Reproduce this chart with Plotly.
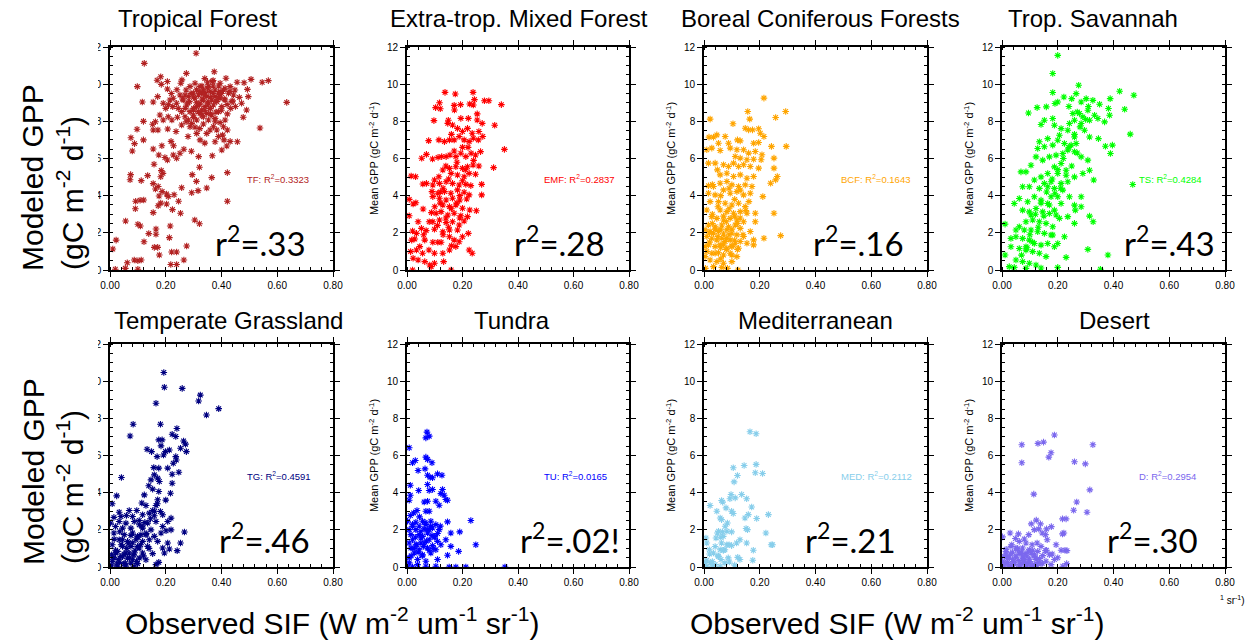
import plotly.graph_objects as go

W, H = 1247, 643

# ---------------- data (x = observed SIF, y = modeled GPP) ----------------
tf_x = [0.309,0.123,0.098,0.116,0.12,0.097,0.075,0.12,0.088,0.08,0.155,0.158,0.074,0.072,0.112,0.135,0.092,0.108,0.121,0.091,
        0.056,0.1,0.109,0.022,0.01,0.019,0.055,0.062,0.087,0.1,0.112,0.1,0.122,0.139,0.165,0.165,0.159,0.171,0.177,0.213,
        0.216,0.221,0.239,0.218,0.239,0.265,0.275,0.304,0.321,0.155,0.173,0.182,0.203,0.224,0.253,0.246,0.23,0.257,0.293,0.295,
        0.31,0.316,0.347,0.365,0.421,0.421,0.321,0.367,0.318,0.265,0.292,0.219,0.228,0.186,0.184,0.19,0.182,0.155,0.173,0.163,
        0.187,0.203,0.176,0.209,0.175,0.197,0.206,0.227,0.251,0.239,0.237,0.207,0.172,0.191,0.163,0.179,0.171,0.155,0.182,0.169,
        0.184,0.206,0.206,0.254,0.274,0.258,0.215,0.225,0.222,0.242,0.245,0.273,0.257,0.287,0.28,0.311,0.323,0.34,0.322,0.347,
        0.335,0.323,0.311,0.299,0.285,0.273,0.305,0.299,0.287,0.323,0.335,0.353,0.368,0.374,0.395,0.416,0.456,0.481,0.506,0.546,
        0.568,0.634,0.538,0.493,0.496,0.49,0.478,0.472,0.464,0.448,0.443,0.437,0.433,0.421,0.413,0.407,0.421,0.404,0.409,0.431,
        0.457,0.419,0.401,0.389,0.377,0.383,0.395,0.377,0.389,0.401,0.413,0.425,0.407,0.389,0.377,0.365,0.353,0.341,0.359,0.371,
        0.383,0.395,0.347,0.335,0.323,0.311,0.329,0.347,0.365,0.353,0.335,0.317,0.299,0.287,0.275,0.263,0.251,0.269,0.281,0.305,
        0.317,0.329,0.341,0.359,0.377,0.395,0.413,0.431,0.239,0.227,0.257,0.269,0.281,0.293,0.305,0.371,0.359,0.377,0.2,0.191,
        0.209,0.155,0.153,
        0.30,0.31,0.32,0.33,0.34,0.35,0.36,0.37,0.38,0.39,0.36,0.34,0.32,0.30,0.28,0.37,0.35,0.33,0.31,0.29,
        0.40,0.41,0.42,0.40,0.38,0.36,0.33,0.30,0.27,0.26,0.39,0.43,0.44,0.45,0.35,0.37,0.34,0.24,0.22,0.21]
tf_y = [11.66,11.12,9.87,9.04,8.0,7.57,7.12,7.0,6.8,6.4,6.51,5.69,5.13,4.86,4.81,5.08,3.7,3.75,3.77,3.3,
        2.64,2.46,2.37,1.61,1.13,0.04,0.09,0.39,0.54,0.5,0.54,0.04,1.52,1.96,2.21,1.92,1.22,1.22,0.81,1.74,
        2.37,0.97,0.97,0.3,0.3,0.54,1.29,2.69,2.49,3.09,3.46,3.6,3.55,3.25,3.05,3.7,4.05,4.43,4.16,5.13,
        4.77,4.27,4.41,4.97,5.24,3.7,5.53,6.15,6.1,6.5,6.39,6.92,6.69,6.69,5.35,5.2,5.02,4.65,4.49,4.36,
        4.22,4.09,3.98,3.95,6.19,6.05,5.92,6.19,6.28,6.01,7.45,7.59,7.53,8.07,7.98,8.34,9.33,9.04,10.4,10.21,
        9.99,9.74,10.14,10.05,10.58,10.23,9.15,8.79,8.07,8.22,8.7,7.98,7.8,7.71,7.18,7.35,7.0,6.83,7.61,7.35,
        7.86,8.43,8.07,8.61,9.06,9.69,10.05,9.51,9.87,9.87,9.69,9.87,10.14,10.67,10.05,10.32,10.1,10.08,10.26,10.1,
        10.19,9.02,7.64,9.72,9.33,8.61,8.22,8.97,9.29,9.69,9.42,9.06,8.7,8.4,8.07,7.71,7.53,7.26,7.0,6.92,
        6.9,6.67,6.46,7.18,6.9,7.53,7.93,8.16,8.52,8.79,9.15,9.51,9.69,9.51,9.33,9.15,8.97,8.79,8.7,8.88,
        9.06,9.24,9.33,9.15,8.97,8.79,8.61,8.43,8.34,8.07,8.25,8.52,8.34,8.52,8.88,9.15,9.42,9.42,9.33,9.24,
        9.42,9.51,9.55,9.6,9.69,9.6,9.78,9.87,8.97,9.24,8.52,8.25,8.07,7.89,7.68,7.71,7.53,7.98,8.7,8.97,
        8.25,7.53,7.84,
        9.3,9.0,9.6,9.2,9.4,9.0,9.3,9.5,9.1,9.3,8.7,8.6,8.9,8.7,9.0,9.9,9.8,9.9,9.7,9.5,
        9.5,9.2,8.9,8.6,8.5,8.4,8.3,8.2,8.7,9.2,9.9,9.6,9.1,8.8,10.1,10.2,10.3,9.7,9.5,8.9]

emf_x = [0.137,0.174,0.238,0.243,0.117,0.12,0.103,0.17,0.171,0.193,0.226,0.239,0.253,0.279,0.295,0.34,0.097,0.149,0.194,0.221,
         0.253,0.271,0.316,0.147,0.164,0.182,0.2,0.218,0.235,0.259,0.273,0.257,0.239,0.224,0.206,0.188,0.17,0.153,0.135,0.115,
         0.078,0.351,0.312,0.265,0.247,0.231,0.212,0.194,0.176,0.155,0.141,0.125,0.112,0.092,0.07,0.053,0.259,0.238,0.218,0.2,
         0.176,0.153,0.129,0.159,0.182,0.206,0.224,0.247,0.115,0.099,0.015,0.031,0.057,0.07,0.093,0.117,0.141,0.164,0.188,0.212,
         0.23,0.269,0.269,0.09,0.111,0.135,0.158,0.182,0.206,0.224,0.093,0.117,0.141,0.164,0.19,0.215,0.008,0.022,0.032,0.058,
         0.129,0.153,0.176,0.2,0.226,0.25,0.088,0.105,0.123,0.147,0.17,0.194,0.218,0.008,0.04,0.093,0.117,0.141,0.164,0.188,
         0.206,0.052,0.069,0.099,0.129,0.153,0.182,0.221,0.02,0.034,0.017,0.028,0.046,0.064,0.093,0.111,0.123,0.153,0.17,0.188,
         0.2,0.013,0.034,0.056,0.079,0.099,0.129,0.153,0.224,0.235,0.022,0.04,0.064,0.082,0.087,0.099,0.132,0.02,0.159,0.176,
         0.13,0.15,0.16,0.14,0.18,0.17,0.12,0.19,0.2,0.21,0.15,0.13,0.11,0.16,0.18,0.14,0.12,0.1,0.08,0.06,
         0.22,0.24,0.2,0.16,0.19]
emf_y = [9.56,9.47,9.56,9.17,9.0,8.68,8.74,8.86,8.61,8.9,8.93,8.88,8.4,9.11,9.11,8.9,8.04,8.06,8.16,8.16,
         8.07,7.89,7.79,7.89,7.8,7.62,7.45,7.62,7.36,7.45,7.18,7.0,7.09,6.91,7.0,7.18,7.0,7.0,6.91,7.0,
         6.96,6.49,5.51,6.37,6.19,6.28,6.1,6.28,6.1,6.19,6.1,6.1,6.06,5.97,6.22,6.01,5.6,5.65,5.56,5.47,
         5.56,5.47,5.38,5.2,5.11,5.02,5.2,5.15,5.02,4.84,5.06,5.02,4.63,4.66,4.57,4.66,4.75,4.66,4.57,4.61,
         4.54,4.61,4.04,4.22,4.13,4.22,4.13,4.31,4.18,4.04,3.95,3.86,3.77,3.86,3.77,3.82,3.8,3.55,3.62,3.28,
         3.5,3.41,3.5,3.32,3.23,3.19,3.09,3.05,3.14,2.96,3.05,2.92,2.87,2.92,2.6,2.6,2.69,2.55,2.6,2.42,
         2.64,2.24,2.12,2.19,2.06,2.15,2.15,1.97,2.1,1.97,1.61,1.67,1.26,1.61,1.49,1.49,1.49,1.79,1.61,1.52,
         1.79,0.99,1.08,0.9,1.08,0.9,0.9,1.08,1.08,0.9,0.63,0.54,0.45,0.27,0.18,0.36,0.45,0.0,0.0,1.26,
         4.4,4.9,3.3,2.8,5.8,6.4,3.6,2.8,4.8,5.4,2.3,1.9,2.4,1.3,3.6,5.6,4.2,3.4,2.6,1.9,
         6.6,5.9,6.6,7.3,4.0]

bcf_x = [0.215,0.293,0.157,0.022,0.257,0.164,0.104,0.148,0.16,0.174,0.196,0.13,0.202,0.215,0.018,0.034,0.046,0.076,0.052,0.088,
         0.12,0.178,0.196,0.242,0.295,0.01,0.028,0.058,0.094,0.118,0.142,0.16,0.184,0.208,0.112,0.13,0.154,0.178,0.205,0.251,
         0.016,0.04,0.07,0.088,0.106,0.124,0.142,0.166,0.196,0.251,0.048,0.058,0.082,0.106,0.13,0.154,0.178,0.263,0.257,0.239,
         0.016,0.034,0.058,0.082,0.1,0.124,0.148,0.172,0.07,0.094,0.118,0.142,0.166,0.016,0.04,0.211,0.161,0.022,0.052,0.076,
         0.1,0.124,0.148,0.058,0.082,0.106,0.13,0.154,0.184,0.251,0.01,0.028,0.046,0.07,0.094,0.118,0.142,0.184,0.016,0.04,
         0.064,0.088,0.112,0.13,0.166,0.004,0.022,0.034,0.052,0.07,0.082,0.1,0.118,0.142,0.178,0.215,0.275,0.01,0.028,0.046,
         0.064,0.076,0.094,0.112,0.13,0.154,0.016,0.04,0.058,0.082,0.1,0.124,0.178,0.01,0.028,0.052,0.07,0.094,0.118,0.022,
         0.046,0.07,0.1,0.034,0.064,0.084,0.122,0.005,0.004,0.004,
         0.02,0.03,0.05,0.06,0.07,0.08,0.09,0.1,0.11,0.12,0.04,0.06,0.08,0.1,0.03,0.05,0.07,0.09,0.11,0.13,
         0.02,0.04,0.06,0.08,0.1,0.12,0.14,0.03,0.06,0.09,0.11,0.13,0.15]
bcf_y = [9.25,8.53,8.53,8.12,8.21,8.12,7.87,7.63,7.54,7.54,7.6,6.95,7.36,7.18,7.15,7.15,7.27,7.18,6.82,6.82,
         7.0,6.82,6.86,6.65,6.65,6.47,6.56,6.43,6.56,6.47,6.47,6.29,6.38,6.2,6.11,6.02,5.93,5.96,5.93,6.02,
         5.75,5.75,5.66,5.57,5.75,5.57,5.66,5.57,5.48,5.48,5.39,5.12,5.21,5.03,5.12,4.94,5.03,5.03,4.85,4.67,
         4.53,4.49,4.67,4.76,4.58,4.49,4.58,4.49,4.31,4.13,4.22,4.04,4.13,4.13,4.04,3.95,3.68,3.68,3.68,3.59,
         3.5,3.59,3.41,3.23,3.14,3.05,3.14,3.05,3.05,3.05,3.23,2.87,2.78,2.69,2.78,2.69,2.6,2.6,2.42,2.33,
         2.42,2.33,2.42,2.24,2.07,2.16,2.07,1.98,2.07,1.94,2.16,1.98,1.89,1.8,1.62,1.71,1.85,1.8,1.71,1.62,
         1.71,1.53,1.62,1.44,1.53,1.44,1.35,1.26,1.35,1.17,1.26,1.17,1.35,0.99,0.9,0.93,0.81,0.9,0.72,0.54,
         0.45,0.36,0.45,0.18,0.14,0.09,0.0,0.09,1.26,0.72,
         1.5,2.5,1.8,2.2,1.4,2.6,1.9,2.2,1.6,2.5,0.9,0.6,1.1,0.8,3.0,3.4,2.9,3.3,2.9,2.8,
         2.0,2.2,1.2,1.7,1.3,1.1,1.9,4.6,4.0,4.4,3.8,4.3,3.2]

ts_x = [0.2,0.182,0.182,0.275,0.422,0.473,0.095,0.126,0.159,0.19,0.2,0.222,0.25,0.266,0.284,0.302,0.326,0.35,0.388,0.44,
        0.382,0.386,0.368,0.46,0.346,0.371,0.396,0.389,0.14,0.152,0.182,0.188,0.212,0.206,0.236,0.242,0.26,0.254,0.278,0.29,
        0.308,0.314,0.332,0.344,0.284,0.296,0.314,0.26,0.266,0.248,0.224,0.236,0.26,0.284,0.308,0.314,0.29,0.26,0.329,0.2,
        0.182,0.164,0.152,0.128,0.134,0.218,0.194,0.17,0.146,0.122,0.104,0.068,0.086,0.062,0.044,0.074,0.098,0.116,0.14,0.164,
        0.188,0.212,0.23,0.2,0.176,0.152,0.134,0.164,0.188,0.212,0.236,0.218,0.242,0.26,0.284,0.263,0.284,0.26,0.314,0.327,
        0.308,0.38,0.353,0.23,0.2,0.224,0.236,0.206,0.188,0.164,0.14,0.116,0.092,0.074,0.098,0.122,0.146,0.17,0.194,0.11,
        0.134,0.158,0.182,0.086,0.062,0.08,0.104,0.128,0.152,0.176,0.05,0.05,0.074,0.098,0.116,0.14,0.164,0.188,0.032,0.062,
        0.086,0.11,0.134,0.158,0.05,0.074,0.098,0.122,0.026,0.044,0.086,0.14,0.2,0.011,0.011,0.032,0.469,0.086,0.104,0.176,
        0.2,0.212,0.182,
        0.12,0.14,0.16,0.18,0.2,0.22,0.24,0.26,0.28,0.3,0.13,0.15,0.17,0.19,0.21,0.23,0.25,0.27,0.1,0.09,
        0.07,0.11,0.24,0.27,0.31]
ts_y = [11.55,10.57,9.55,9.94,9.62,9.4,8.45,8.74,8.78,8.96,9.04,9.31,9.22,9.49,9.04,9.22,9.13,8.92,9.22,8.65,
        8.69,8.33,7.97,7.31,7.07,6.66,6.72,6.27,7.83,8.06,8.15,7.79,7.61,7.25,7.52,7.88,8.06,8.42,8.42,8.24,
        8.6,8.06,8.33,8.15,7.88,7.52,7.16,7.16,6.81,6.72,6.81,6.45,6.36,6.09,5.91,5.37,5.19,5.01,4.84,6.98,
        6.72,7.07,6.63,6.54,6.9,6.27,6.18,6.09,5.91,6.09,5.64,5.28,5.28,3.85,3.58,4.48,4.48,4.84,5.01,5.19,
        5.55,5.73,5.37,5.19,4.75,4.66,4.39,4.48,4.39,4.66,4.75,4.3,3.94,3.49,3.94,3.22,3.4,2.51,2.9,2.6,
        1.11,0.81,0.04,0.68,1.43,1.79,2.87,2.78,3.22,3.58,3.76,3.94,3.67,3.22,3.13,3.31,3.13,3.04,2.96,2.69,
        2.6,2.51,2.33,2.6,2.33,2.15,2.15,2.06,1.97,1.88,2.15,1.79,1.7,1.61,1.43,1.34,1.43,1.25,1.25,1.16,
        1.07,0.99,0.9,0.72,0.54,0.45,0.36,0.27,0.18,0.14,0.09,0.11,0.14,0.81,2.47,1.7,4.6,1.25,2.96,3.94,
        3.94,3.58,1.88,
        3.0,3.6,4.2,4.9,5.4,6.0,6.6,7.3,7.7,8.1,2.3,2.9,3.5,4.1,4.4,5.1,5.6,6.3,1.9,1.2,
        0.8,1.5,8.8,8.5,8.8]

tg_x = [0.193,0.195,0.259,0.324,0.318,0.39,0.346,0.165,0.083,0.072,0.181,0.24,0.223,0.236,0.264,0.271,0.274,0.253,0.175,0.187,
        0.183,0.213,0.199,0.133,0.149,0.169,0.192,0.236,0.238,0.227,0.207,0.247,0.223,0.157,0.175,0.159,0.171,0.147,0.177,0.041,
        0.223,0.139,0.153,0.175,0.217,0.024,0.123,0.171,0.008,0.114,0.129,0.165,0.096,0.069,0.033,0.059,0.153,0.181,0.189,0.014,
        0.039,0.081,0.117,0.141,0.159,0.219,0.207,0.165,0.033,0.057,0.087,0.105,0.135,0.189,0.002,0.02,0.045,0.075,0.117,0.147,
        0.201,0.219,0.267,0.014,0.051,0.081,0.099,0.129,0.159,0.183,0.033,0.063,0.093,0.117,0.141,0.171,0.207,0.253,0.008,0.045,
        0.075,0.105,0.135,0.189,0.213,0.241,0.027,0.057,0.087,0.117,0.153,0.195,0.006,0.014,0.039,0.063,0.081,0.105,0.129,0.008,
        0.033,0.051,0.075,0.099,0.006,0.027,0.057,0.087,0.165,0.175,0.02,0.045,0.099,0.069,0.111,
        0.01,0.02,0.03,0.04,0.05,0.06,0.07,0.08,0.09,0.1,0.11,0.12,0.13,0.14,0.015,0.035,0.055,0.075,0.095,0.115,
        0.025,0.045,0.065,0.085,0.105,0.125,0.145,0.16,0.17,0.2]
tg_y = [10.47,9.67,9.61,9.25,8.93,8.52,8.18,8.81,7.68,7.05,7.68,7.45,7.14,7.02,6.78,6.61,6.21,6.39,6.84,6.84,
        6.52,6.3,6.21,6.34,6.21,5.94,6.03,5.94,5.76,5.58,5.32,5.1,4.99,5.35,5.32,4.96,4.78,4.69,4.6,4.82,
        4.51,4.37,4.19,4.06,3.97,3.83,3.88,3.62,3.4,3.44,3.31,3.31,3.04,3.04,2.95,2.77,3.04,2.99,2.81,2.67,
        2.72,2.72,2.81,2.9,2.76,2.63,2.45,2.45,2.45,2.36,2.45,2.27,2.36,2.18,2.36,2.18,2.09,2.09,2.09,2.0,
        1.95,2.0,1.88,1.83,1.74,1.83,1.65,1.74,1.65,1.83,1.47,1.38,1.47,1.38,1.47,1.38,1.29,1.29,1.2,1.11,
        1.11,1.02,1.11,1.02,0.97,0.88,0.84,0.75,0.75,0.75,0.72,0.75,0.66,0.48,0.57,0.48,0.39,0.48,0.39,0.3,
        0.25,0.18,0.21,0.18,0.07,0.04,0.04,0.04,0.13,0.25,0.75,1.47,1.11,0.75,1.74,
        0.5,0.9,0.4,1.2,0.7,1.0,0.5,1.3,0.9,1.6,1.2,0.6,1.8,1.0,1.5,1.9,0.2,1.7,0.3,2.2,
        0.15,0.55,1.25,0.65,2.5,2.4,2.6,3.0,3.4,3.6]

tu_x = [0.072,0.08,0.068,0.008,0.068,0.074,0.02,0.03,0.09,0.04,0.065,0.11,0.126,0.074,0.083,0.092,0.074,0.012,0.042,0.08,
        0.092,0.122,0.134,0.128,0.14,0.146,0.012,0.008,0.062,0.074,0.104,0.116,0.036,0.068,0.08,0.024,0.012,0.23,0.146,0.002,
        0.032,0.056,0.086,0.104,0.02,0.044,0.068,0.008,0.032,0.062,0.092,0.116,0.158,0.19,0.014,0.044,0.074,0.098,0.14,0.248,
        0.02,0.05,0.08,0.11,0.158,0.008,0.032,0.062,0.092,0.122,0.014,0.044,0.074,0.104,0.186,0.146,0.026,0.056,0.086,0.11,
        0.008,0.038,0.068,0.008,0.038,0.068,0.104,0.152,0.176,0.212,0.353,0.002,0.02,0.05,0.08,0.056,
        0.03,0.05,0.07,0.09,0.04,0.06,0.08,0.1,0.02,0.045,0.065,0.085,0.035,0.055,0.075,0.095,0.11,0.12,0.015,0.025]
tu_y = [7.26,7.04,6.95,6.42,5.91,5.79,5.61,5.73,5.61,5.19,5.28,5.01,4.94,4.94,4.83,4.8,4.44,4.4,4.12,4.12,
        4.17,3.95,3.86,4.17,3.63,3.59,3.86,3.59,3.5,3.54,3.54,3.32,3.04,3.0,3.0,2.91,2.77,2.5,2.43,2.46,
        2.41,2.46,2.46,2.28,2.19,2.19,2.28,2.01,2.01,2.05,2.1,2.01,1.83,1.89,1.74,1.74,1.83,1.65,1.47,1.2,
        1.47,1.56,1.47,1.38,1.11,1.29,1.2,1.29,1.15,1.2,1.02,0.93,1.02,0.93,0.84,0.63,0.75,0.66,0.75,0.4,
        0.49,0.4,0.31,0.22,0.13,0.04,0.04,0.0,0.0,0.0,0.0,0.0,0.0,1.29,2.01,1.65,
        1.6,1.9,1.4,1.7,0.8,1.1,0.9,1.6,2.3,2.7,2.4,2.2,1.2,0.6,2.0,1.0,1.8,2.2,0.6,1.0]

med_x = [0.165,0.187,0.105,0.144,0.187,0.184,0.21,0.12,0.108,0.097,0.135,0.093,0.112,0.022,0.063,0.067,0.153,0.171,0.079,0.099,
         0.105,0.046,0.159,0.231,0.058,0.063,0.189,0.147,0.084,0.076,0.151,0.156,0.052,0.066,0.048,0.082,0.099,0.222,0.007,0.043,
         0.069,0.129,0.153,0.117,0.063,0.082,0.099,0.241,0.246,0.019,0.058,0.069,0.075,0.177,0.034,0.052,0.087,0.121,0.061,0.01,
         0.004,0.175,0.024,0.04,0.075,0.01,0.031,0.058,0.091,0.129,0.01,
         0.03,0.05,0.07,0.06,0.04,0.09,0.02,0.11]
med_y = [7.28,7.17,5.34,5.46,5.52,5.07,5.03,4.92,4.58,3.9,3.9,3.67,3.72,3.31,3.58,3.49,3.67,3.23,3.18,3.0,
         2.88,3.0,2.82,2.82,2.64,2.55,2.61,2.64,2.37,2.19,2.07,2.01,1.92,1.89,1.83,1.92,1.89,1.83,1.56,1.56,
         1.65,1.47,1.29,1.29,1.29,1.2,1.15,1.2,1.2,0.93,0.93,0.9,0.93,0.9,0.75,0.57,0.49,0.52,0.4,0.36,
         0.25,0.36,0.22,0.13,0.22,0.04,0.04,0.04,0.27,0.4,1.29,
         0.3,0.6,0.9,1.6,1.1,1.2,0.7,0.1]

d_x = [0.188,0.071,0.129,0.149,0.326,0.176,0.168,0.071,0.26,0.299,0.114,0.315,0.268,0.257,0.305,0.217,0.23,0.123,0.105,0.138,
       0.177,0.222,0.217,0.116,0.132,0.16,0.096,0.144,0.156,0.162,0.029,0.059,0.002,0.048,0.08,0.062,0.086,0.108,0.126,0.194,
       0.14,0.212,0.226,0.233,0.032,0.05,0.074,0.098,0.128,0.156,0.17,0.014,0.038,0.062,0.086,0.116,0.146,0.188,0.008,0.026,
       0.05,0.074,0.098,0.122,0.158,0.232,0.002,0.02,0.044,0.068,0.092,0.116,0.14,0.176,0.008,0.032,0.062,0.086,0.11,0.218,
       0.014,0.056,0.08,0.038,0.104,
       0.01,0.02,0.03,0.04,0.05,0.06,0.07,0.08,0.09,0.1,0.11,0.12,0.13,0.015,0.035,0.055,0.075,0.095,0.115,0.135,
       0.025,0.045,0.065,0.085,0.105,0.125,0.145,0.16,0.18,0.2]
d_y = [7.1,6.58,6.65,6.72,6.58,6.15,5.91,5.61,5.66,5.55,3.92,4.15,3.5,3.05,2.95,2.59,2.59,2.52,2.32,2.32,
       2.17,1.83,1.78,2.01,2.05,2.05,1.74,1.83,1.74,1.47,1.83,1.78,1.62,1.53,1.51,1.38,1.29,1.2,1.29,1.2,
       1.11,0.9,0.9,0.88,1.11,1.02,1.02,0.93,0.84,0.88,0.66,0.84,0.79,0.75,0.72,0.66,0.61,0.4,0.57,0.54,
       0.49,0.54,0.43,0.4,0.31,0.18,0.31,0.25,0.22,0.22,0.18,0.13,0.18,0.13,0.04,0.04,0.04,0.04,0.04,0.04,
       0.66,0.93,0.4,0.4,0.75,
       0.2,0.45,0.7,0.3,0.6,0.35,0.8,0.25,0.55,0.3,0.9,0.5,0.25,0.95,1.2,1.0,0.6,0.85,0.6,0.45,
       0.1,0.15,0.1,0.12,0.1,0.1,0.2,0.9,0.7,0.5]

panel_titles = ["Tropical Forest", "Extra-trop. Mixed Forest", "Boreal Coniferous Forests", "Trop. Savannah",
                "Temperate Grassland", "Tundra", "Mediterranean", "Desert"]
codes = ["TF", "EMF", "BCF", "TS", "TG", "TU", "MED", "D"]
r2_exact = ["0.3323", "0.2837", "0.1643", "0.4284", "0.4591", "0.0165", "0.2112", "0.2954"]
r2_short = [".33", ".28", ".16", ".43", ".46", ".02!", ".21", ".30"]
xs = [tf_x, emf_x, bcf_x, ts_x, tg_x, tu_x, med_x, d_x]
ys = [tf_y, emf_y, bcf_y, ts_y, tg_y, tu_y, med_y, d_y]
x_ticks = [0.0, 0.2, 0.4, 0.6, 0.8]
y_ticks = [0, 2, 4, 6, 8, 10, 12]

# ---------------- styling / layout ----------------
colors = ["#B22222", "#FF0000", "#FFA500", "#00FF00", "#000080", "#0000FF", "#87CEEB", "#7B68EE"]
col_px = [(110, 333), (407, 629), (704, 927), (1002, 1225)]
row_px = [(47, 270), (344, 567)]
title_cx = [197, 519, 820, 1093, 228, 512, 815, 1114]
r2_right = [308, 607, 906, 1217, 312, 622, 898, 1200]

def px(x):
    return x / W

def py(y):
    return 1 - y / H

fig = go.Figure()
layout = dict(width=W, height=H, margin=dict(l=0, r=0, t=0, b=0, autoexpand=False),
              paper_bgcolor="white", plot_bgcolor="white", showlegend=False,
              font=dict(family="Liberation Sans, Arial, sans-serif", color="black"))
annotations = []
shapes = []
ytitle = "Mean GPP (gC m<sup>-2</sup> d<sup>-1</sup>)"
FONT = "Liberation Sans, Arial, sans-serif"

for i in range(8):
    r, c = divmod(i, 4)
    k = "" if i == 0 else str(i + 1)
    x0, x1 = col_px[c]
    y0, y1 = row_px[r]
    fig.add_trace(go.Scatter(
        x=xs[i], y=ys[i], mode="markers", xaxis="x" + k, yaxis="y" + k,
        marker=dict(symbol="asterisk-open", size=5.5, color=colors[i],
                    line=dict(color=colors[i], width=1.1)),
        hoverinfo="x+y"))
    common = dict(showline=True, linecolor="black", linewidth=1.6, mirror="allticks",
                  ticks="outside", ticklen=5, tickwidth=1.3, tickcolor="black",
                  showgrid=False, zeroline=False, automargin=False,
                  tickfont=dict(family=FONT, size=10, color="black"))
    layout["xaxis" + k] = dict(common, domain=[px(x0), px(x1)], anchor="y" + k,
                               range=[0, 0.8], tickvals=x_ticks, tickformat=".2f",
                               minor=dict(dtick=0.04, ticks="inside", ticklen=3,
                                          tickcolor="black", tickwidth=1))
    layout["yaxis" + k] = dict(common, domain=[py(y1), py(y0)], anchor="x" + k,
                               range=[0, 12], tickvals=y_ticks,
                               title=dict(text=(ytitle if c > 0 else ""),
                                          font=dict(family=FONT, size=11), standoff=6),
                               minor=dict(dtick=0.5, ticks="inside", ticklen=3,
                                          tickcolor="black", tickwidth=1))
    # small R^2 label
    annotations.append(dict(xref="x" + k, yref="y" + k, x=0.485, y=4.9, xanchor="left",
                            yanchor="middle", showarrow=False,
                            text=f"{codes[i]}: R<sup>2</sup>={r2_exact[i]}",
                            font=dict(family=FONT, size=9.5, color=colors[i])))
    # big r^2 label
    annotations.append(dict(xref="paper", yref="paper", x=px(r2_right[i]),
                            y=py(y0 + 194), xanchor="right", yanchor="middle",
                            showarrow=False, text=f"r<sup>2</sup>={r2_short[i]}",
                            font=dict(family="Lato, Open Sans, sans-serif", size=33, color="black")))
    # panel title
    annotations.append(dict(xref="paper", yref="paper", x=px(title_cx[i]),
                            y=py(18 + r * 302), xanchor="center", yanchor="middle",
                            showarrow=False, text=panel_titles[i],
                            font=dict(family=FONT, size=24, color="black")))

# white cover over the left-column axis labels (they sit under the big shared label)
shapes.append(dict(type="rect", xref="paper", yref="paper", x0=0, x1=px(98),
                   y0=py(600), y1=py(30), fillcolor="white", line=dict(width=0), layer="above"))

# big shared labels
for cy1, cy2 in [(178, 193), (472, 487)]:
    annotations.append(dict(xref="paper", yref="paper", x=px(33), y=py(cy1), textangle=-90,
                            showarrow=False, xanchor="center", yanchor="middle",
                            text="Modeled GPP", font=dict(family=FONT, size=30, color="black")))
    annotations.append(dict(xref="paper", yref="paper", x=px(70), y=py(cy2), textangle=-90,
                            showarrow=False, xanchor="center", yanchor="middle",
                            text="(gC m<sup>-2</sup> d<sup>-1</sup>)",
                            font=dict(family=FONT, size=30, color="black")))
for cx in [332, 897]:
    annotations.append(dict(xref="paper", yref="paper", x=px(cx), y=py(621),
                            showarrow=False, xanchor="center", yanchor="middle",
                            text="Observed SIF (W m<sup>-2</sup> um<sup>-1</sup> sr<sup>-1</sup>)",
                            font=dict(family=FONT, size=30, color="black")))
annotations.append(dict(xref="paper", yref="paper", x=px(1232), y=py(600),
                        showarrow=False, xanchor="center", yanchor="middle",
                        text="<sup>1</sup> sr<sup>-1</sup>)",
                        font=dict(family=FONT, size=10, color="black")))

layout["annotations"] = annotations
layout["shapes"] = shapes
fig.update_layout(**layout)
fig.write_html("out.html")
